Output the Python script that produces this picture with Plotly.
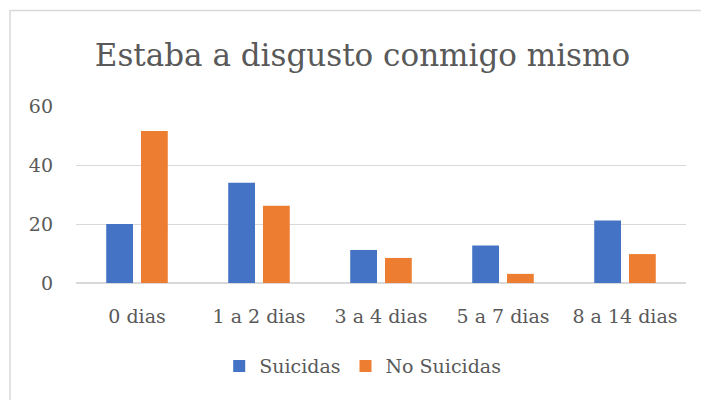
import plotly.graph_objects as go

categories = ["0 dias", "1 a 2 dias", "3 a 4 dias", "5 a 7 dias", "8 a 14 dias"]
suicidas = [20, 34, 11.2, 12.7, 21.2]
no_suicidas = [51.5, 26.2, 8.5, 3.1, 9.8]
y_ticks = [0, 20, 40, 60]

FONT = "DejaVu Serif"
GRAY = "#595959"

fig = go.Figure()
fig.add_trace(go.Bar(x=categories, y=suicidas, name="Suicidas",
                     marker=dict(color="#4472C4", line=dict(width=0))))
fig.add_trace(go.Bar(x=categories, y=no_suicidas, name="No Suicidas",
                     marker=dict(color="#ED7D31", line=dict(width=0))))

fig.update_layout(
    width=701, height=400,
    margin=dict(l=76, r=15, t=106, b=117, autoexpand=False),
    paper_bgcolor="white", plot_bgcolor="white",
    barmode="group", bargap=0.43, bargroupgap=0.23,
    title=dict(text="Estaba a disgusto conmigo mismo", x=0.517, xanchor="center",
               y=0.8625, yanchor="middle",
               font=dict(family=FONT, size=31, color=GRAY)),
    font=dict(family=FONT, size=19, color=GRAY),
    legend=dict(orientation="h", x=0.47, xanchor="center", y=-0.47, yanchor="middle",
                font=dict(family=FONT, size=19, color=GRAY), itemwidth=30,
                traceorder="normal"),
    xaxis=dict(showgrid=False, ticks="", showline=False, automargin=False,
               ticklabelstandoff=20,
               tickfont=dict(family=FONT, size=19, color=GRAY)),
    yaxis=dict(range=[0, 60], tickvals=y_ticks, showgrid=True, gridcolor="#d9d9d9",
               gridwidth=1, zeroline=True, zerolinecolor="#d9d9d9", zerolinewidth=2,
               ticks="", showline=False, ticklabelstandoff=22, automargin=False,
               tickfont=dict(family=FONT, size=19, color=GRAY)),
    shapes=[dict(type="rect", xref="paper", yref="paper",
                 x0=(10 - 76) / 610, x1=(705 - 76) / 610,
                 y0=(283 - 405) / 177.3, y1=(283 - 10) / 177.3,
                 line=dict(color="#d9d9d9", width=1.5), fillcolor="rgba(0,0,0,0)",
                 layer="below")],
)

fig.write_html("out.html", config={"displayModeBar": False},
               post_script="document.body.style.margin='0';")
